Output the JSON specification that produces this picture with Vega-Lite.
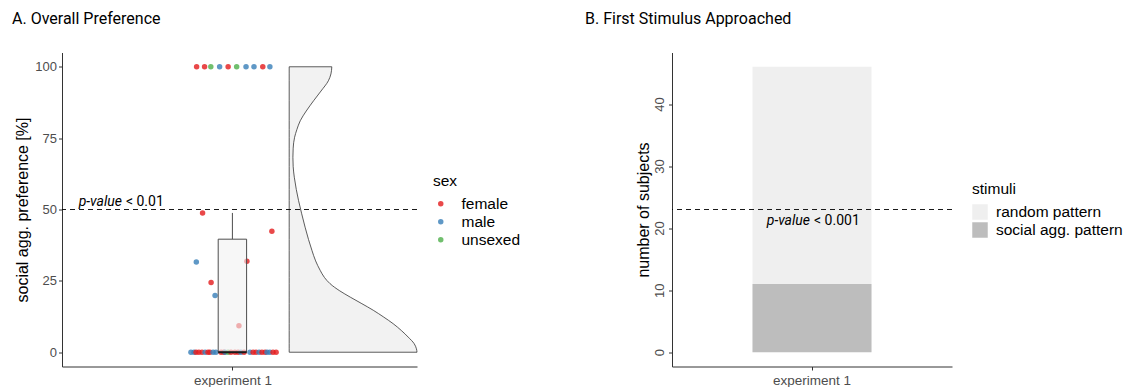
{
  "$schema": "https://vega.github.io/schema/vega-lite/v6.json",
  "background": "white",
  "padding": {"left": 12, "top": 10.5, "right": 0, "bottom": 0},
  "autosize": {"type": "pad"},
  "bounds": "flush",
  "spacing": 255,
  "resolve": {"scale": {"color": "independent"}, "legend": {"color": "independent"}},
  "config": {
    "view": {"stroke": null},
    "font": "Liberation Sans",
    "axis": {
      "grid": false,
      "domainColor": "#333333",
      "domainWidth": 1,
      "tickColor": "#333333",
      "tickSize": 3.5,
      "labelColor": "#4D4D4D",
      "labelFontSize": 13,
      "labelPadding": 2,
      "titleFontSize": 16,
      "titleFontWeight": "normal",
      "titleColor": "#000000",
      "titlePadding": 4
    },
    "legend": {
      "titleFontSize": 15.5,
      "titleFontWeight": "normal",
      "titleColor": "#000000",
      "labelFontSize": 15.5,
      "labelColor": "#000000",
      "titlePadding": 7
    },
    "title": {"font": "Roboto", "fontSize": 16, "fontWeight": "normal", "anchor": "start", "color": "#000000", "frame": "group", "offset": 26}
  },
  "datasets": {
    "pts": [
      {"jitter": 0.874, "pref": 100, "sex": "female"},
      {"jitter": 0.902, "pref": 100, "sex": "female"},
      {"jitter": 0.924, "pref": 100, "sex": "unsexed"},
      {"jitter": 0.955, "pref": 100, "sex": "male"},
      {"jitter": 0.985, "pref": 100, "sex": "female"},
      {"jitter": 1.015, "pref": 100, "sex": "unsexed"},
      {"jitter": 1.048, "pref": 100, "sex": "male"},
      {"jitter": 1.076, "pref": 100, "sex": "male"},
      {"jitter": 1.107, "pref": 100, "sex": "female"},
      {"jitter": 1.132, "pref": 100, "sex": "male"},
      {"jitter": 0.895, "pref": 48.8, "sex": "female"},
      {"jitter": 1.139, "pref": 42.4, "sex": "female"},
      {"jitter": 0.873, "pref": 31.6, "sex": "male"},
      {"jitter": 0.925, "pref": 24.4, "sex": "female"},
      {"jitter": 0.939, "pref": 19.9, "sex": "male"},
      {"jitter": 1.051, "pref": 31.9, "sex": "female"},
      {"jitter": 1.023, "pref": 9.3, "sex": "female"},
      {"jitter": 0.854, "pref": 0, "sex": "male"},
      {"jitter": 0.865, "pref": 0, "sex": "male"},
      {"jitter": 0.872, "pref": 0, "sex": "female"},
      {"jitter": 0.882, "pref": 0, "sex": "female"},
      {"jitter": 0.893, "pref": 0, "sex": "female"},
      {"jitter": 0.904, "pref": 0, "sex": "male"},
      {"jitter": 0.914, "pref": 0, "sex": "female"},
      {"jitter": 0.921, "pref": 0, "sex": "female"},
      {"jitter": 0.932, "pref": 0, "sex": "male"},
      {"jitter": 0.942, "pref": 0, "sex": "male"},
      {"jitter": 0.960, "pref": 0, "sex": "female"},
      {"jitter": 0.970, "pref": 0, "sex": "female"},
      {"jitter": 0.974, "pref": 0, "sex": "male"},
      {"jitter": 0.985, "pref": 0, "sex": "unsexed"},
      {"jitter": 0.995, "pref": 0, "sex": "female"},
      {"jitter": 1.009, "pref": 0, "sex": "female"},
      {"jitter": 1.020, "pref": 0, "sex": "female"},
      {"jitter": 1.030, "pref": 0, "sex": "male"},
      {"jitter": 1.041, "pref": 0, "sex": "female"},
      {"jitter": 1.062, "pref": 0, "sex": "male"},
      {"jitter": 1.073, "pref": 0, "sex": "female"},
      {"jitter": 1.083, "pref": 0, "sex": "female"},
      {"jitter": 1.094, "pref": 0, "sex": "male"},
      {"jitter": 1.104, "pref": 0, "sex": "female"},
      {"jitter": 1.115, "pref": 0, "sex": "female"},
      {"jitter": 1.122, "pref": 0, "sex": "male"},
      {"jitter": 1.132, "pref": 0, "sex": "male"},
      {"jitter": 1.143, "pref": 0, "sex": "female"},
      {"jitter": 1.154, "pref": 0, "sex": "female"}
    ],
    "box": [
      {"group": "experiment 1", "lower": 0, "q1": 0, "median": 0, "q3": 39.6, "upper": 48.8}
    ],
    "violin": [
      {"pref": 100, "edge": 1.350},
      {"pref": 97.5, "edge": 1.347},
      {"pref": 95.1, "edge": 1.338},
      {"pref": 91.5, "edge": 1.312},
      {"pref": 88.1, "edge": 1.286},
      {"pref": 84.5, "edge": 1.260},
      {"pref": 81.1, "edge": 1.239},
      {"pref": 78.0, "edge": 1.227},
      {"pref": 75.3, "edge": 1.219},
      {"pref": 71.5, "edge": 1.214},
      {"pref": 68.3, "edge": 1.213},
      {"pref": 65.0, "edge": 1.214},
      {"pref": 61.3, "edge": 1.218},
      {"pref": 57.0, "edge": 1.225},
      {"pref": 53.1, "edge": 1.233},
      {"pref": 48.5, "edge": 1.244},
      {"pref": 43.8, "edge": 1.256},
      {"pref": 39.5, "edge": 1.268},
      {"pref": 35.7, "edge": 1.280},
      {"pref": 32.0, "edge": 1.293},
      {"pref": 28.7, "edge": 1.309},
      {"pref": 26.2, "edge": 1.324},
      {"pref": 24.0, "edge": 1.344},
      {"pref": 21.5, "edge": 1.378},
      {"pref": 19.3, "edge": 1.415},
      {"pref": 17.0, "edge": 1.456},
      {"pref": 14.7, "edge": 1.496},
      {"pref": 12.3, "edge": 1.533},
      {"pref": 10.0, "edge": 1.566},
      {"pref": 7.6, "edge": 1.595},
      {"pref": 5.3, "edge": 1.619},
      {"pref": 3.0, "edge": 1.640},
      {"pref": 1.2, "edge": 1.648},
      {"pref": 0, "edge": 1.650}
    ],
    "bars": [
      {"experiment": "experiment 1", "stimuli": "random pattern", "n": 35},
      {"experiment": "experiment 1", "stimuli": "social agg. pattern", "n": 11}
    ],
    "testA": [
      {"threshold": 50, "p": "< 0.01"}
    ],
    "testB": [
      {"threshold": 23, "p": "< 0.001"}
    ]
  },
  "hconcat": [
    {
      "title": {"text": "A. Overall Preference", "dx": -50},
      "width": 355,
      "height": 314,
      "layer": [
        {
          "data": {"name": "violin"},
          "mark": {"type": "area", "orient": "horizontal", "interpolate": "monotone", "fill": "#F2F2F2", "stroke": "#333333", "strokeWidth": 0.8},
          "encoding": {
            "y": {"field": "pref", "type": "quantitative", "title": "social agg. preference [%]",
                  "scale": {"domain": [-5, 105], "nice": false, "zero": false},
                  "axis": {"values": [0, 25, 50, 75, 100]}},
            "x": {"field": "edge", "type": "quantitative", "title": null,
                  "scale": {"domain": [0.4, 1.65], "nice": false, "zero": false},
                  "axis": {"values": [1], "labelExpr": "'experiment 1'", "labelPadding": 3, "labelFontSize": 13.5}},
            "x2": {"datum": 1.2}
          }
        },
        {
          "data": {"name": "pts"},
          "mark": {"type": "point", "filled": true, "size": 30, "opacity": 0.8},
          "encoding": {
            "x": {"field": "jitter", "type": "quantitative", "title": null},
            "y": {"field": "pref", "type": "quantitative", "title": "social agg. preference [%]"},
            "color": {"field": "sex", "type": "nominal",
                      "scale": {"domain": ["female", "male", "unsexed"], "range": ["#E41A1C", "#377EB8", "#4DAF4A"]},
                      "legend": {"orient": "none", "legendX": 371, "legendY": 121, "symbolType": "circle", "symbolSize": 30, "labelOffset": 13, "rowPadding": 1}}
          }
        },
        {
          "data": {"name": "box"},
          "mark": {"type": "rule", "color": "#4D4D4D", "strokeWidth": 1},
          "encoding": {
            "x": {"datum": 1},
            "y": {"field": "q3", "type": "quantitative", "title": "social agg. preference [%]"},
            "y2": {"field": "upper"}
          }
        },
        {
          "data": {"name": "box"},
          "mark": {"type": "rect", "fill": "#F2F2F2", "fillOpacity": 0.6, "stroke": "#4D4D4D", "strokeWidth": 1},
          "encoding": {
            "x": {"datum": 0.95},
            "x2": {"datum": 1.05},
            "y": {"field": "q1", "type": "quantitative", "title": "social agg. preference [%]"},
            "y2": {"field": "q3"}
          }
        },
        {
          "data": {"name": "box"},
          "mark": {"type": "rule", "color": "#1A1A1A", "strokeWidth": 2},
          "encoding": {
            "x": {"datum": 0.95},
            "x2": {"datum": 1.05},
            "y": {"field": "median", "type": "quantitative", "title": "social agg. preference [%]"}
          }
        },
        {
          "data": {"name": "testA"},
          "mark": {"type": "rule", "color": "#000000", "strokeWidth": 0.9, "strokeDash": [5, 4]},
          "encoding": {"y": {"field": "threshold", "type": "quantitative", "title": "social agg. preference [%]"}}
        },
        {
          "data": {"name": "testA"},
          "mark": {"type": "text", "text": "p-value", "font": "Roboto", "fontStyle": "italic", "fontSize": 14, "align": "right", "baseline": "alphabetic", "dx": -2, "dy": -4, "color": "#000000"},
          "encoding": {"x": {"datum": 0.618}, "y": {"field": "threshold", "type": "quantitative", "title": "social agg. preference [%]"}}
        },
        {
          "data": {"name": "testA"},
          "mark": {"type": "text", "font": "Roboto", "fontSize": 14, "align": "left", "baseline": "alphabetic", "dx": 2, "dy": -4, "color": "#000000"},
          "encoding": {"x": {"datum": 0.618}, "y": {"field": "threshold", "type": "quantitative", "title": "social agg. preference [%]"}, "text": {"field": "p"}}
        }
      ]
    },
    {
      "title": {"text": "B. First Stimulus Approached", "dx": -87},
      "width": 280,
      "height": 314,
      "layer": [
        {
          "data": {"name": "bars"},
          "mark": {"type": "bar"},
          "encoding": {
            "x": {"field": "experiment", "type": "nominal", "title": null,
                  "scale": {"paddingOuter": 0.676, "paddingInner": 0},
                  "axis": {"labelAngle": 0, "labelPadding": 3, "labelFontSize": 13.5}},
            "y": {"field": "n", "type": "quantitative", "stack": "zero", "title": "number of subjects",
                  "scale": {"domain": [-2.3, 48.3], "nice": false, "zero": false},
                  "axis": {"values": [0, 10, 20, 30, 40], "labelAngle": -90, "titlePadding": 2}},
            "color": {"field": "stimuli", "type": "nominal",
                      "scale": {"domain": ["random pattern", "social agg. pattern"], "range": ["#EFEFEF", "#BDBDBD"]},
                      "legend": {"orient": "none", "legendX": 300, "legendY": 129, "symbolType": "square", "symbolSize": 240, "symbolStrokeWidth": 0, "labelOffset": 8, "rowPadding": 1}},
            "order": {"field": "stimuli", "sort": "descending"}
          }
        },
        {
          "data": {"name": "testB"},
          "mark": {"type": "rule", "color": "#000000", "strokeWidth": 0.9, "strokeDash": [5, 4]},
          "encoding": {"y": {"field": "threshold", "type": "quantitative", "title": "number of subjects"}}
        },
        {
          "data": {"name": "testB"},
          "mark": {"type": "text", "text": "p-value", "font": "Roboto", "fontStyle": "italic", "fontSize": 14, "align": "right", "baseline": "alphabetic", "dx": -2, "dy": 15, "color": "#000000"},
          "encoding": {"x": {"datum": "experiment 1", "type": "nominal"}, "y": {"field": "threshold", "type": "quantitative", "title": "number of subjects"}}
        },
        {
          "data": {"name": "testB"},
          "mark": {"type": "text", "font": "Roboto", "fontSize": 14, "align": "left", "baseline": "alphabetic", "dx": 2, "dy": 15, "color": "#000000"},
          "encoding": {"x": {"datum": "experiment 1", "type": "nominal"}, "y": {"field": "threshold", "type": "quantitative", "title": "number of subjects"}, "text": {"field": "p"}}
        }
      ]
    }
  ]
}
